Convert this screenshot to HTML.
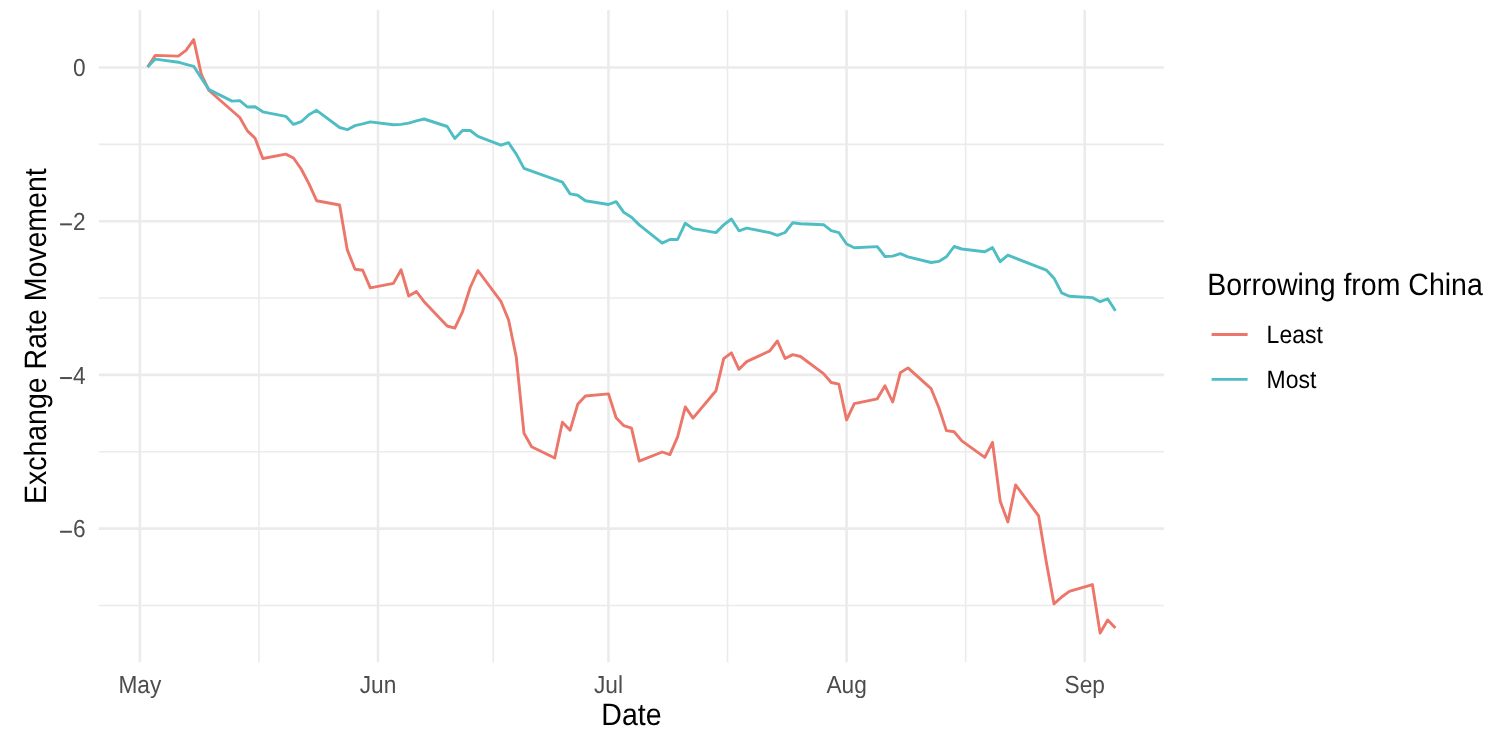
<!DOCTYPE html>
<html><head><meta charset="utf-8"><style>
html,body{margin:0;padding:0;background:#fff;}
body{width:1492px;height:739px;overflow:hidden;}
svg{display:block;will-change:transform;font-family:"Liberation Sans",sans-serif;text-rendering:geometricPrecision;}
.gM{stroke:#EBEBEB;stroke-width:2.6;}
.gm{stroke:#EBEBEB;stroke-width:1.6;}
.tk{font-size:22.7px;fill:#4D4D4D;}
.ti{font-size:28.5px;fill:#000;}
.lt{font-size:23.0px;fill:#000;}
.ln{fill:none;stroke-width:2.9;stroke-linejoin:round;stroke-linecap:butt;}
</style></head><body>
<svg width="1492" height="739" viewBox="0 0 1492 739">
<rect width="1492" height="739" fill="#fff"/>
<line class="gM" x1="98.8" x2="1164.0" y1="67.50" y2="67.50"/>
<line class="gM" x1="98.8" x2="1164.0" y1="221.20" y2="221.20"/>
<line class="gM" x1="98.8" x2="1164.0" y1="374.90" y2="374.90"/>
<line class="gM" x1="98.8" x2="1164.0" y1="528.60" y2="528.60"/>
<line class="gm" x1="98.8" x2="1164.0" y1="144.35" y2="144.35"/>
<line class="gm" x1="98.8" x2="1164.0" y1="298.05" y2="298.05"/>
<line class="gm" x1="98.8" x2="1164.0" y1="451.75" y2="451.75"/>
<line class="gm" x1="98.8" x2="1164.0" y1="605.45" y2="605.45"/>
<line class="gM" x1="139.90" x2="139.90" y1="10.0" y2="662.3"/>
<line class="gM" x1="378.02" x2="378.02" y1="10.0" y2="662.3"/>
<line class="gM" x1="608.46" x2="608.46" y1="10.0" y2="662.3"/>
<line class="gM" x1="846.58" x2="846.58" y1="10.0" y2="662.3"/>
<line class="gM" x1="1084.70" x2="1084.70" y1="10.0" y2="662.3"/>
<line class="gm" x1="258.96" x2="258.96" y1="10.0" y2="662.3"/>
<line class="gm" x1="493.24" x2="493.24" y1="10.0" y2="662.3"/>
<line class="gm" x1="727.52" x2="727.52" y1="10.0" y2="662.3"/>
<line class="gm" x1="965.64" x2="965.64" y1="10.0" y2="662.3"/>
<polyline class="ln" stroke="#EB7669" points="147.6,67.0 155.3,55.4 178.3,56.1 186.0,50.3 193.7,39.6 201.4,74.7 209.0,90.5 239.8,117.5 247.4,130.9 255.1,138.2 262.8,158.5 285.8,154.1 293.5,158.0 301.2,169.0 308.9,183.7 316.6,200.7 339.6,205.0 347.3,249.9 355.0,269.2 362.7,270.2 370.3,287.9 393.4,283.4 401.1,269.8 408.7,296.0 416.4,291.5 424.1,301.7 447.2,326.0 454.8,328.1 462.5,311.8 470.2,287.5 477.9,270.5 500.9,301.3 508.6,320.0 516.3,357.3 524.0,433.3 531.6,446.7 554.7,458.0 562.4,422.2 570.1,430.3 577.7,404.3 585.4,396.0 608.5,393.9 616.1,417.8 623.8,425.7 631.5,428.2 639.2,461.1 662.2,452.0 669.9,454.6 677.6,436.8 685.3,406.9 693.0,418.1 716.0,390.7 723.7,358.6 731.4,352.9 739.0,369.3 746.7,361.6 769.8,350.9 777.4,341.0 785.1,358.5 792.8,354.6 800.5,356.5 823.5,373.6 831.2,382.5 838.9,384.2 846.6,419.9 854.3,403.7 877.3,398.8 885.0,385.8 892.7,402.0 900.3,372.8 908.0,367.9 931.1,388.7 938.8,407.5 946.4,430.6 954.1,431.8 961.8,440.9 984.8,457.4 992.5,442.3 1000.2,501.3 1007.9,522.0 1015.6,484.9 1038.6,515.9 1046.3,561.9 1054.0,603.9 1061.7,597.0 1069.3,591.3 1092.4,584.6 1100.1,633.0 1107.7,619.9 1115.4,628.0"/>
<polyline class="ln" stroke="#4FBDC4" points="147.6,67.0 155.3,59.1 178.3,62.2 186.0,64.3 193.7,66.3 201.4,78.1 209.0,89.6 232.1,101.1 239.8,100.6 247.4,107.0 255.1,106.8 262.8,111.8 285.8,116.3 293.5,124.4 301.2,121.7 308.9,114.7 316.6,110.3 339.6,127.5 347.3,129.7 355.0,125.6 362.7,123.9 370.3,121.9 393.4,124.7 401.1,124.4 408.7,123.1 416.4,120.8 424.1,119.0 447.2,126.5 454.8,138.5 462.5,130.4 470.2,130.5 477.9,136.3 500.9,145.2 508.6,142.7 516.3,154.1 524.0,168.4 562.4,182.1 570.1,193.9 577.7,195.2 585.4,200.7 608.5,204.5 616.1,201.7 623.8,212.4 631.5,217.3 639.2,224.9 662.2,243.1 669.9,239.5 677.6,239.5 685.3,223.2 693.0,228.6 716.0,232.6 723.7,224.9 731.4,219.0 739.0,230.8 746.7,228.1 769.8,232.7 777.4,235.4 785.1,232.5 792.8,222.7 800.5,223.8 823.5,224.7 831.2,230.6 838.9,232.7 846.6,244.0 854.3,247.7 877.3,246.6 885.0,256.5 892.7,256.1 900.3,253.6 908.0,256.8 931.1,262.5 938.8,261.4 946.4,256.8 954.1,246.5 961.8,249.0 984.8,251.7 992.5,247.6 1000.2,261.7 1007.9,255.2 1046.3,270.1 1054.0,278.2 1061.7,292.9 1069.3,296.3 1092.4,297.6 1100.1,301.7 1107.7,298.8 1115.4,310.7"/>
<text class="tk" transform="translate(85.7,76.1) scale(1,1.085)" text-anchor="end">0</text>
<text class="tk" transform="translate(85.7,229.8) scale(1,1.085)" text-anchor="end">2</text>
<rect x="60.1" y="223.35" width="11.8" height="2.0" fill="#4D4D4D"/>
<text class="tk" transform="translate(85.7,383.5) scale(1,1.085)" text-anchor="end">4</text>
<rect x="60.1" y="377.05" width="11.8" height="2.0" fill="#4D4D4D"/>
<text class="tk" transform="translate(85.7,537.2) scale(1,1.085)" text-anchor="end">6</text>
<rect x="60.1" y="530.75" width="11.8" height="2.0" fill="#4D4D4D"/>
<text class="tk" transform="translate(139.9,692.8) scale(1,1.085)" text-anchor="middle">May</text>
<text class="tk" transform="translate(378.0,692.8) scale(1,1.085)" text-anchor="middle">Jun</text>
<text class="tk" transform="translate(608.5,692.8) scale(1,1.085)" text-anchor="middle">Jul</text>
<text class="tk" transform="translate(846.6,692.8) scale(1,1.085)" text-anchor="middle">Aug</text>
<text class="tk" transform="translate(1084.7,692.8) scale(1,1.085)" text-anchor="middle">Sep</text>
<text class="ti" transform="translate(631.4,725.0) scale(1,1.085)" text-anchor="middle">Date</text>
<text class="ti" transform="translate(46.0,336.2) rotate(-90) scale(1,1.085)" text-anchor="middle">Exchange Rate Movement</text>
<text class="ti" transform="translate(1207.2,294.5) scale(1,1.085)" text-anchor="start">Borrowing from China</text>
<text class="lt" transform="translate(1266.6,343.0) scale(1,1.085)" text-anchor="start">Least</text>
<text class="lt" transform="translate(1266.6,388.0) scale(1,1.085)" text-anchor="start">Most</text>
<line x1="1211.6" x2="1247.6" y1="334.5" y2="334.5" stroke="#EB7669" stroke-width="2.9"/>
<line x1="1211.6" x2="1247.6" y1="379.4" y2="379.4" stroke="#4FBDC4" stroke-width="2.9"/>
</svg>
</body></html>
